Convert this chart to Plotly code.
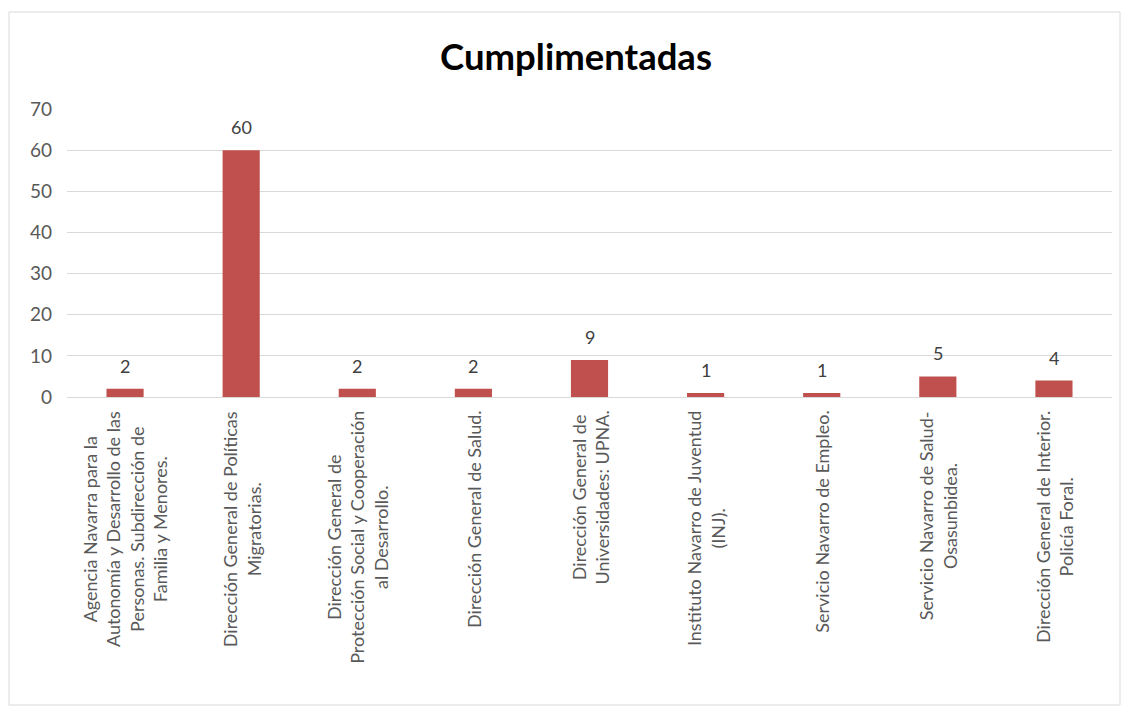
import plotly.graph_objects as go

categories = [
    "Agencia Navarra para la<br>Autonomía y Desarrollo de las<br>Personas. Subdirección de<br>Familia y Menores.",
    "Dirección General de Políticas<br>Migratorias.",
    "Dirección General de<br>Protección Social y Cooperación<br>al Desarrollo.",
    "Dirección General de Salud.",
    "Dirección General de<br>Universidades: UPNA.",
    "Instituto Navarro de Juventud<br>(INJ).",
    "Servicio Navarro de Empleo.",
    "Servicio Navarro de Salud-<br>Osasunbidea.",
    "Dirección General de Interior.<br>Policía Foral.",
]
values = [2, 60, 2, 2, 9, 1, 1, 5, 4]
y_ticks = [0, 10, 20, 30, 40, 50, 60, 70]
title_text = "Cumplimentadas"

FONT = "Lato"
OFF = 8  # page body margin
W, H = 1131 - 2 * OFF, 708 - OFF
L, R = 67 - OFF, W - (1112 - OFF)
T, B = 109 - OFF, H - (397 - OFF)
pw, ph = W - L - R, H - T - B

fig = go.Figure()
fig.add_trace(go.Bar(
    x=list(range(len(categories))),
    y=values,
    marker=dict(color="#C0504D", line=dict(width=0)),
    width=0.32,
))

annotations = []
for i, v in enumerate(values):
    annotations.append(dict(
        x=i, xref="x", y=v, yref="y", text=str(v), showarrow=False,
        xanchor="center", yanchor="bottom", yshift=10,
        font=dict(family=FONT, size=18, color="#404040"),
    ))
for i, c in enumerate(categories):
    annotations.append(dict(
        x=i, xref="x", y=-12 / ph, yref="paper",
        text=c, textangle=-90, showarrow=False,
        xanchor="center", yanchor="top", align="center",
        font=dict(family=FONT, size=18, color="#595959"),
    ))

fig.update_layout(
    width=W, height=H,
    margin=dict(l=L, r=R, t=T, b=B),
    paper_bgcolor="white", plot_bgcolor="white",
    title=dict(text="<b>" + title_text + "</b>", x=(576 - OFF) / W, xref="container", xanchor="center",
               y=1 - (57 - OFF) / H, yref="container", yanchor="middle",
               font=dict(family=FONT, size=36.5, color="black")),
    xaxis=dict(showticklabels=False, showgrid=False, zeroline=False, showline=False,
               range=[-0.5, len(categories) - 0.5], fixedrange=True),
    yaxis=dict(range=[0, 70], tickvals=y_ticks, showgrid=True, gridcolor="#D9D9D9", gridwidth=1,
               zeroline=True, zerolinecolor="#D9D9D9", zerolinewidth=1, showline=False,
               tickfont=dict(family=FONT, size=19, color="#595959"),
               ticklabelstandoff=14),
    annotations=annotations,
    shapes=[dict(type="rect", xref="paper", yref="paper",
                 x0=(9 - 67) / pw, x1=(1120 - 67) / pw,
                 y0=(397 - 705) / ph, y1=(397 - 12) / ph,
                 line=dict(color="#D9D9D9", width=1), fillcolor="rgba(0,0,0,0)", layer="below")],
    showlegend=False,
)

fig.write_html("out.html")
